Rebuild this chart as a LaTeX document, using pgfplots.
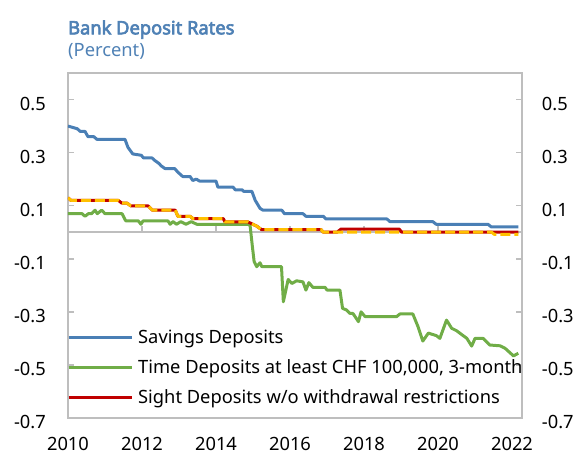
\documentclass[border=0pt]{standalone}
\usepackage{fontspec}
\setmainfont{Noto Sans}[AutoFakeBold=3.5]
\usepackage{pgfplots}
\pgfplotsset{compat=1.18}
\definecolor{sblue}{HTML}{4A7FB5}
\definecolor{sgreen}{HTML}{70AD47}
\definecolor{sred}{HTML}{C00000}
\definecolor{syellow}{HTML}{FFC000}
\definecolor{tblue}{HTML}{4F81B5}
\definecolor{fgray}{RGB}{190,190,190}
\newcommand\f{\fontsize{18.3pt}{22pt}\selectfont}
\begin{document}
\begin{tikzpicture}
\path[use as bounding box] (-68pt,-37pt) rectangle (513pt,418pt);
\node[anchor=base west, inner sep=0pt, text=tblue, font=\f\bfseries] at (0pt,383.7pt) {Bank Deposit Rates};
\node[anchor=base west, inner sep=0pt, text=tblue, font=\f] at (0pt,361.3pt) {(Percent)};
\begin{axis}[
  at={(0pt,0pt)}, anchor=south west,
  scale only axis, width=454pt, height=345pt,
  xmin=2010, xmax=2022.27, ymin=-0.7, ymax=0.6,
  xtick={2010,2012,2014,2016,2018,2020,2022},
  xticklabels={2010,2012,2014,2016,2018,2020,2022},
  ytick={-0.7,-0.5,-0.3,-0.1,0.1,0.3,0.5},
  yticklabels={-0.7,-0.5,-0.3,-0.1,0.1,0.3,0.5},
  axis line style={fgray, line width=2pt},
  xtick style={draw=none},
  ytick style={fgray, line width=1.5pt},
  tick align=inside, major tick length=6pt,
  ytick pos=both,
  xticklabel style={font=\f, inner sep=0pt, anchor=base, yshift=-32pt},
  yticklabel style={font=\f, inner sep=0pt, anchor=east, xshift=-22pt, yshift=-4pt},
  legend style={at={(axis description cs:0,0)}, anchor=south west, draw=none, fill=none,
    font=\f, inner xsep=0pt, inner ysep=0pt, row sep=12.5pt, xshift=-1pt, yshift=12pt,
    nodes={inner sep=1pt}},
  legend cell align=left,
  legend image code/.code={\draw[#1] (0pt,0pt) -- (63pt,0pt); \path (67pt,0pt);},
  every axis plot/.append style={line width=3pt, line join=round},
]
\draw[fgray, line width=2pt] (axis cs:2010,0) -- (axis cs:2022.27,0);
\pgfplotsinvokeforeach{2012,2014,2016,2018,2020}{\draw[fgray, line width=1.5pt] (axis cs:#1,0) -- ++(0pt,6pt);}
\addplot[sblue] coordinates {
(2010.00,0.40) (2010.25,0.39) (2010.33,0.38) (2010.46,0.38) (2010.54,0.36) (2010.70,0.36)
(2010.78,0.35) (2011.54,0.35) (2011.62,0.32) (2011.75,0.295) (2011.98,0.29) (2012.04,0.28)
(2012.27,0.28) (2012.35,0.27) (2012.45,0.26) (2012.52,0.25) (2012.62,0.24) (2012.88,0.24)
(2012.98,0.225) (2013.10,0.21) (2013.30,0.21) (2013.37,0.195) (2013.47,0.20) (2013.55,0.193)
(2014.00,0.193) (2014.05,0.17) (2014.46,0.17) (2014.52,0.16) (2014.70,0.16) (2014.75,0.154)
(2014.97,0.154) (2015.06,0.12) (2015.19,0.09) (2015.27,0.083) (2015.78,0.083) (2015.85,0.07)
(2016.35,0.07) (2016.43,0.06) (2016.90,0.06) (2016.97,0.05) (2018.62,0.05) (2018.70,0.04)
(2019.86,0.04) (2019.95,0.03) (2021.35,0.03) (2021.44,0.02) (2022.17,0.02)};
\addlegendentry{Savings Deposits}
\addplot[sgreen] coordinates {
(2010.00,0.07) (2010.38,0.07) (2010.46,0.06) (2010.55,0.07) (2010.64,0.07) (2010.73,0.083)
(2010.79,0.07) (2010.91,0.083) (2011.00,0.07) (2011.46,0.07) (2011.56,0.043) (2011.90,0.043)
(2011.97,0.03) (2012.03,0.043) (2012.70,0.043) (2012.76,0.03) (2012.84,0.04) (2012.93,0.03)
(2013.05,0.04) (2013.19,0.03) (2013.33,0.04) (2013.48,0.03) (2014.86,0.03) (2014.92,0.027)
(2014.98,-0.05) (2015.03,-0.11) (2015.10,-0.13) (2015.19,-0.115) (2015.24,-0.13) (2015.77,-0.13)
(2015.82,-0.262) (2015.95,-0.178) (2016.05,-0.193) (2016.18,-0.183) (2016.35,-0.187) (2016.43,-0.218)
(2016.51,-0.19) (2016.62,-0.208) (2016.95,-0.208) (2017.00,-0.218) (2017.35,-0.218) (2017.42,-0.287)
(2017.53,-0.293) (2017.62,-0.306) (2017.70,-0.306) (2017.85,-0.337) (2017.92,-0.30) (2018.03,-0.318)
(2018.88,-0.318) (2018.97,-0.308) (2019.32,-0.308) (2019.46,-0.356) (2019.59,-0.41) (2019.74,-0.38)
(2019.96,-0.39) (2020.05,-0.40) (2020.23,-0.331) (2020.37,-0.362) (2020.50,-0.371) (2020.78,-0.40)
(2020.91,-0.429) (2021.00,-0.40) (2021.22,-0.40) (2021.40,-0.425) (2021.68,-0.428) (2021.81,-0.437)
(2022.04,-0.466) (2022.17,-0.456)};
\addlegendentry{Time Deposits at least CHF 100,000, 3-month}
\addplot[sred] coordinates {
(2010.00,0.13) (2010.08,0.12) (2011.36,0.12) (2011.45,0.11) (2011.59,0.11) (2011.70,0.099)
(2012.17,0.099) (2012.28,0.083) (2012.90,0.083) (2012.97,0.06) (2013.30,0.06) (2013.38,0.051)
(2014.20,0.051) (2014.24,0.039) (2014.86,0.039) (2015.10,0.023) (2015.23,0.01) (2016.84,0.01)
(2016.90,0.0) (2017.27,0.0) (2017.38,0.012) (2018.95,0.012) (2019.02,0.0) (2022.17,0.0)};
\addlegendentry{Sight Deposits w/o withdrawal restrictions}
\addplot[syellow, dash pattern=on 10pt off 4pt, forget plot] coordinates {
(2010.00,0.13) (2010.08,0.12) (2011.36,0.12) (2011.45,0.11) (2011.59,0.11) (2011.70,0.099)
(2012.17,0.099) (2012.28,0.083) (2012.90,0.083) (2012.97,0.06) (2013.30,0.06) (2013.38,0.051)
(2014.20,0.051) (2014.24,0.039) (2014.86,0.039) (2015.10,0.023) (2015.23,0.01) (2016.84,0.01)
(2016.90,0.0) (2021.45,0.0) (2021.52,-0.008) (2022.17,-0.008)};
\end{axis}
\begin{axis}[
  at={(0pt,0pt)}, anchor=south west,
  scale only axis, width=454pt, height=345pt,
  xmin=2010, xmax=2022.27, ymin=-0.7, ymax=0.6,
  xtick=\empty,
  ytick={-0.7,-0.5,-0.3,-0.1,0.1,0.3,0.5},
  yticklabels={-0.7,-0.5,-0.3,-0.1,0.1,0.3,0.5},
  yticklabel pos=right,
  axis line style={draw=none},
  ytick style={draw=none},
  yticklabel style={font=\f, inner sep=0pt, anchor=west, xshift=19.7pt, yshift=-4pt},
]
\end{axis}
\end{tikzpicture}
\end{document}
